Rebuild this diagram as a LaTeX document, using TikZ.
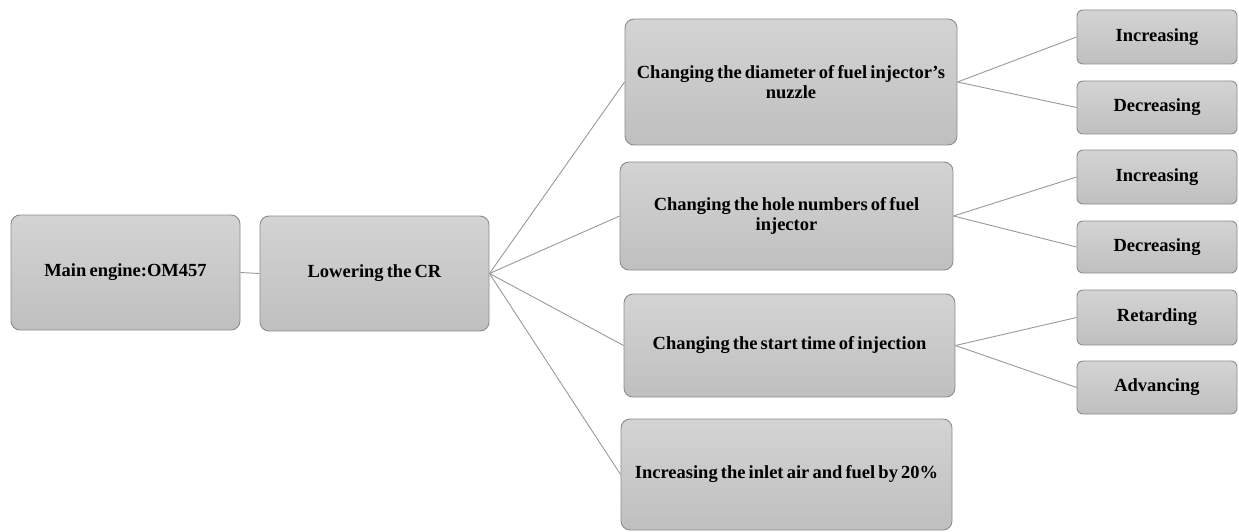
\documentclass[tikz,border=0pt]{standalone}
\usepackage{fontspec}
\setmainfont{Liberation Serif}
\newcommand{\myboxfont}{\fontsize{18.5}{20}\selectfont\bfseries\spaceskip=0.17em plus 0.05em\relax}
\begin{document}
\begin{tikzpicture}[x=1pt,y=-1pt,
  box/.style={draw=black!45, line width=0.9pt, rounded corners=9pt, top color=black!17, bottom color=black!25, align=center, font=\myboxfont, inner sep=0pt},
  leaf/.style={box, minimum width=160pt, minimum height=54pt, rounded corners=6pt},
  link/.style={draw=black!40, line width=0.9pt}]
\useasboundingbox (0,0) rectangle (1239,532);
\node[box, minimum width=229pt, minimum height=115pt] (main) at (125.5,272.5) {Main engine:OM457};
\node[box, minimum width=229pt, minimum height=115pt] (low) at (374.5,273.5) {Lowering the CR};
\node[box, minimum width=332pt, minimum height=126pt] (dia) at (791,82) {Changing the diameter of fuel injector's\\nuzzle};
\node[box, minimum width=333pt, minimum height=108pt] (hole) at (786.5,216) {Changing the hole numbers of fuel\\injector};
\node[box, minimum width=331pt, minimum height=103pt] (start) at (789.5,345.5) {Changing the start time of injection};
\node[box, minimum width=331pt, minimum height=111pt] (inlet) at (786.5,474.5) {Increasing the inlet air and fuel by 20\%};
\node[leaf] (i1) at (1157,37) {Increasing};
\node[leaf, minimum height=53pt] (d1) at (1157,107.5) {Decreasing};
\node[leaf] (i2) at (1157,177) {Increasing};
\node[leaf, minimum height=52pt] (d2) at (1157,247) {Decreasing};
\node[leaf, minimum height=55pt] (r) at (1157,317.5) {Retarding};
\node[leaf, minimum height=53pt] (a) at (1157,387.5) {Advancing};
\draw[link] (main.east) -- (low.west);
\foreach \t in {dia,hole,start,inlet} \draw[link] (low.east) -- (\t.west);
\draw[link] (dia.east) -- (i1.west);
\draw[link] (dia.east) -- (d1.west);
\draw[link] (hole.east) -- (i2.west);
\draw[link] (hole.east) -- (d2.west);
\draw[link] (start.east) -- (r.west);
\draw[link] (start.east) -- (a.west);
\end{tikzpicture}
\end{document}
